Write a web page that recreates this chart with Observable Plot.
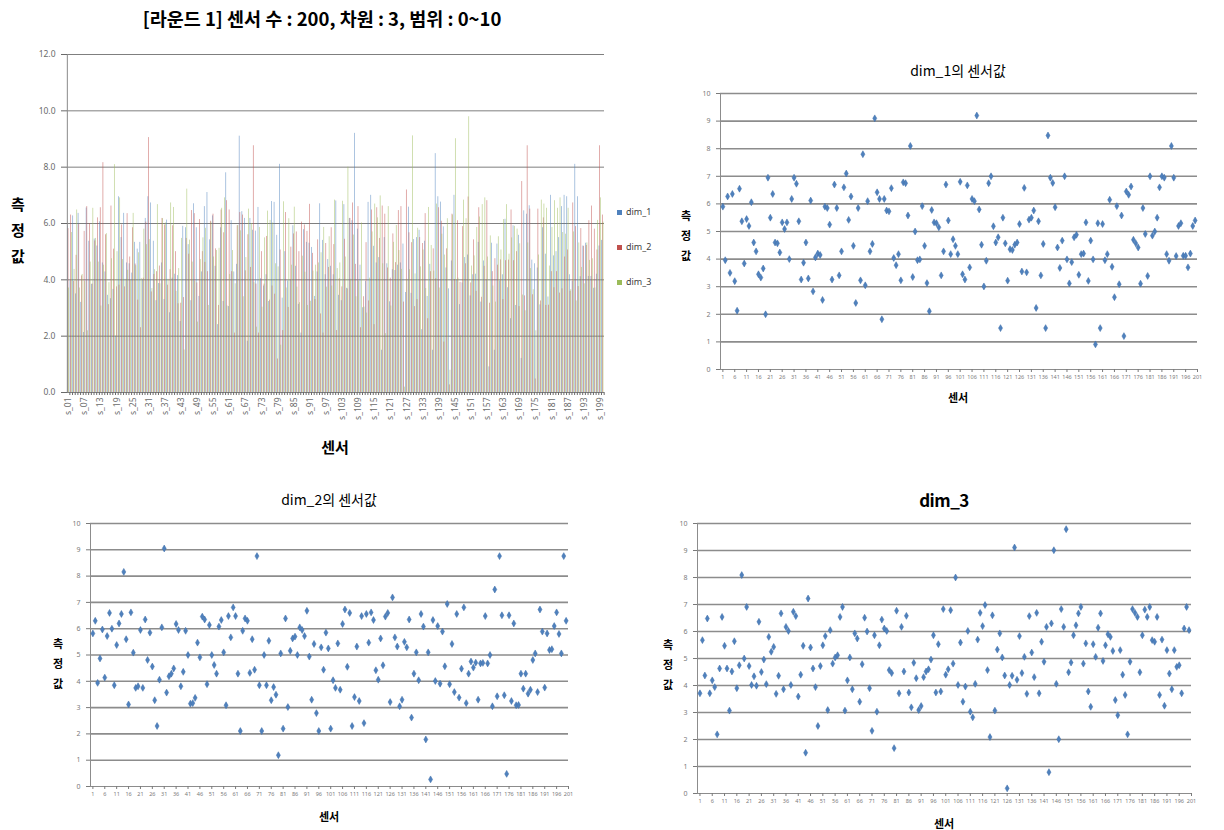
<!DOCTYPE html>
<html><head><meta charset="utf-8">
<script src="https://cdn.jsdelivr.net/npm/d3@7"></script>
<script src="https://cdn.jsdelivr.net/npm/@observablehq/plot@0.6"></script>
<style>
body{margin:0;background:#fff;}
#root{position:relative;width:1224px;height:830px;overflow:hidden;background:#fff;font-family:"Noto Sans CJK KR","Noto Sans",sans-serif;}
#root svg{position:absolute;overflow:visible;}
.t{position:absolute;white-space:nowrap;transform:translate(-50%,-50%);color:#000;line-height:1;}
.yl{position:absolute;transform:translate(-50%,0);font-weight:bold;text-align:center;}
.lg{position:absolute;font-family:"Noto Sans",sans-serif;font-size:9px;color:#404040;white-space:nowrap;}
.lg span{display:inline-block;width:5px;height:5px;margin-right:4px;vertical-align:middle;}
</style></head>
<body><div id="root"></div>
<script>
const sensorNums = d3.range(1, 201);
const dimNames = ["dim_1", "dim_2", "dim_3"];

const dim1 = [
5.9,3.96,6.27,3.5,6.36,3.2,2.13,6.55,5.37,3.84,
5.45,5.2,6.06,4.6,4.28,3.45,3.33,3.66,2.0,6.95,
5.5,6.36,4.6,4.57,4.24,5.33,5.09,5.33,4.0,6.18,
6.95,6.73,5.37,3.26,3.87,4.6,3.3,6.12,2.83,4.06,
4.2,4.15,2.52,5.9,5.85,5.25,3.26,6.7,5.85,3.41,
4.28,6.6,7.1,5.42,6.27,4.48,2.41,5.85,3.23,7.8,
3.05,6.1,4.28,4.55,9.1,6.42,6.18,1.82,6.18,5.76,
5.73,6.57,4.04,3.78,4.18,3.23,6.78,6.75,5.58,8.1,
3.35,5.0,3.96,3.99,5.92,4.48,3.13,2.11,5.78,5.33,
5.3,5.15,3.41,4.28,6.7,5.4,4.18,4.72,4.48,4.18,
6.8,3.45,3.26,6.67,3.7,6.18,6.1,9.2,5.8,4.52,
3.01,3.94,6.75,7.0,5.19,4.6,4.79,1.5,5.5,4.57,
3.22,4.36,4.33,4.52,4.6,5.27,3.55,6.58,3.52,5.43,
5.5,5.76,2.23,5.37,3.41,4.55,1.5,8.48,6.95,6.76,
5.88,4.42,3.68,4.67,7.0,3.99,3.12,3.89,4.79,4.88,
3.43,4.18,4.2,5.33,3.21,4.67,3.99,0.91,5.3,1.5,
5.27,3.96,4.18,6.15,3.72,2.62,5.92,3.09,5.58,1.21,
6.45,6.33,6.63,4.7,4.57,4.42,3.11,5.85,4.91,3.39,
7.0,4.85,5.0,5.5,6.6,7.0,6.95,4.18,3.94,8.1,
6.95,4.11,5.2,5.3,4.12,4.12,3.7,4.2,5.2,5.4];

const dim2 = [
5.82,6.3,3.94,4.87,5.97,4.14,5.72,6.6,6.0,3.85,
5.38,6.2,6.56,8.16,5.6,3.12,6.62,5.09,3.75,3.81,
5.95,3.75,6.35,4.81,5.85,4.56,3.28,2.3,4.06,6.05,
9.05,3.57,4.19,4.29,4.49,6.18,5.95,3.81,4.36,5.92,
5.0,3.15,3.17,3.37,5.47,4.91,6.46,6.35,3.89,6.14,
5.0,4.62,4.29,6.08,6.33,5.1,3.09,6.48,5.67,6.81,
6.48,4.29,2.11,5.92,6.39,6.3,4.32,5.6,4.44,8.76,
3.85,2.11,5.0,3.85,5.54,3.28,3.78,3.49,1.19,5.06,
2.2,6.39,3.02,5.16,5.63,5.7,5.0,6.05,5.95,5.72,
6.68,4.94,3.3,5.42,2.79,2.11,5.29,4.44,5.85,5.25,
2.2,4.04,3.75,5.44,3.68,6.18,6.73,4.55,6.6,2.3,
3.4,5.32,3.25,6.48,2.41,6.56,5.47,6.62,6.33,4.42,
4.06,5.63,4.61,6.46,6.6,3.21,7.19,5.67,5.32,3.05,
3.3,5.5,5.29,6.35,2.62,4.29,5.1,4.04,6.56,6.08,
1.79,5.1,0.27,6.33,4.01,6.1,3.91,5.89,4.57,6.94,
3.89,5.42,3.59,6.56,3.38,4.48,6.81,3.17,4.29,4.75,
4.52,4.71,3.3,4.68,4.7,6.48,4.68,5.0,3.05,7.49,
3.43,8.76,6.51,3.47,0.48,6.51,3.25,6.2,3.09,3.1,
4.29,3.72,4.29,3.53,3.68,4.81,5.06,3.59,6.73,5.89,
3.76,5.82,5.19,5.22,6.1,6.62,5.8,5.06,8.76,6.3];

const dim3 = [
3.71,5.68,4.37,6.48,3.71,4.19,3.94,2.19,4.63,6.54,
5.47,4.63,3.07,4.52,5.64,3.9,4.75,8.09,5.0,6.91,
4.72,4.02,4.34,3.99,6.36,4.5,4.96,4.05,5.8,5.25,
5.43,3.69,4.36,6.67,3.86,6.17,6.02,4.02,6.73,6.57,
3.59,4.4,5.47,1.51,7.22,5.41,4.63,3.94,2.5,4.72,
5.49,5.83,3.09,6.05,4.81,5.04,5.12,6.54,6.91,3.07,
4.19,5.04,3.86,5.93,5.74,3.4,4.79,6.51,6.0,3.9,
2.32,5.86,3.03,5.49,6.44,6.11,6.02,4.57,4.46,1.68,
6.77,3.71,6.17,4.52,6.58,3.74,3.19,4.84,4.27,3.09,
3.24,4.31,4.52,4.6,4.96,5.86,3.74,5.53,3.78,6.83,
4.4,4.6,6.79,4.81,8.0,4.02,5.59,3.4,3.96,6.02,
3.03,2.82,4.06,5.7,6.69,6.2,6.98,4.57,2.09,6.6,
3.07,5.33,5.93,5.04,4.37,0.19,4.02,4.36,9.11,4.21,
5.83,4.46,5.06,3.69,6.57,5.22,4.31,6.69,3.71,5.62,
4.88,6.17,0.79,6.3,9.01,4.06,2.01,6.83,6.17,9.79,
4.49,4.85,5.86,6.23,6.67,6.91,4.81,5.56,3.78,3.21,
5.53,5.06,6.14,6.67,4.91,5.49,5.9,5.8,5.28,3.46,
2.9,5.31,4.4,3.65,2.19,4.88,6.83,6.69,6.54,4.49,
5.86,6.81,6.54,6.91,5.68,5.62,6.54,3.65,5.7,3.25,
5.31,4.44,3.86,5.31,4.69,4.75,3.71,6.11,6.91,6.05];

const barTickSensors = d3.range(1, 201, 6);
const yTicksBar = [0, 2, 4, 6, 8, 10, 12];
const yTicksScatter = d3.range(0, 11);
const xTicksScatter = d3.range(1, 202, 5);

const series = [dim1, dim2, dim3];
const colors = ["#4f81bd", "#c0504d", "#9bbb59"];
const sensorLabel = n => "s_" + (n < 10 ? "0" + n : n);

const root = document.getElementById("root");
function place(svg, left, top) { svg.style.left = left + "px"; svg.style.top = top + "px"; root.appendChild(svg); }
function text(x, y, s, css) { const d = document.createElement("div"); d.className = "t"; d.textContent = s; d.style.cssText += `left:${x}px;top:${y}px;` + (css || ""); root.appendChild(d); }
function ylab(x, y, size, gap) { const d = document.createElement("div"); d.className = "yl"; d.innerHTML = "측<br>정<br>값"; d.style.cssText += `left:${x}px;top:${y}px;font-size:${size}px;line-height:${gap}px;`; root.appendChild(d); }

// ---- grouped bar chart ----
const barKeys = sensorNums.flatMap(n => [...dimNames.map(d => n + "|" + d), n + "|gap"]);
const rows = sensorNums.flatMap((n, i) => dimNames.map((d, j) => ({ key: n + "|" + d, dim: d, value: series[j][i] })));
const bar = Plot.plot({
  width: 612, height: 400, marginLeft: 67, marginRight: 8, marginTop: 14, marginBottom: 48,
  style: { fontFamily: "'Noto Sans', sans-serif", fontSize: "8.5px", color: "#6a6a6a", background: "transparent" },
  x: { type: "band", domain: barKeys, padding: 0, axis: null },
  y: { domain: [0, 12], axis: null },
  color: { domain: dimNames, range: colors },
  marks: [
    Plot.ruleY(yTicksBar, { stroke: "#7f7f7f", strokeWidth: 1 }),
    Plot.barY(rows, { x: "key", y: "value", fill: "dim", fillOpacity: 0.7 }),
    Plot.ruleX([barKeys[0]], { stroke: "#8a8a8a", dx: -0.5 }),
    Plot.axisY({ ticks: yTicksBar, tickFormat: d3.format(".1f"), tickSize: 6, tickPadding: 6, label: null }),
    Plot.axisX({ ticks: sensorNums.map(n => n + "|gap"), tickFormat: () => "", tickSize: 3, label: null }),
    Plot.axisX({ ticks: barTickSensors.map(n => n + "|dim_2"), tickFormat: k => sensorLabel(+k.split("|")[0]), tickRotate: -90, tickSize: 0, tickPadding: 5, label: null })
  ]
});
place(bar, 0, 40);
text(322, 18, "[라운드 1] 센서 수 : 200, 차원 : 3, 범위 : 0~10", "font-size:18.5px;font-weight:bold;");
text(335, 446, "센서", "font-size:15px;font-weight:bold;");
ylab(18, 191, 15, 26);
const legend = document.createElement("div");
legend.innerHTML = dimNames.map((d, j) => `<div class="lg" style="left:617px;top:${205 + j * 35}px"><span style="background:${colors[j]}"></span>${d}</div>`).join("");
root.appendChild(legend);

// ---- scatter plots ----
function scatter(values, w, h) {
  const data = values.map((v, i) => ({ s: sensorNums[i], v }));
  return Plot.plot({
    width: w, height: h, marginLeft: 30, marginRight: 10, marginTop: 8, marginBottom: 16,
    style: { fontFamily: "'Noto Sans', sans-serif", fontSize: "7px", color: "#7a7a7a", background: "transparent" },
    x: { domain: [0, 201], axis: null },
    y: { domain: [0, 10], axis: null },
    marks: [
      Plot.ruleY(yTicksScatter.slice(1), { stroke: "#8c8c8c", strokeWidth: 1.6 }),
      Plot.ruleY([0], { stroke: "#8c8c8c", strokeWidth: 1 }),
      Plot.ruleX([0], { stroke: "#8c8c8c", strokeWidth: 1 }),
      Plot.axisY({ ticks: yTicksScatter, tickSize: 4, tickPadding: 6, label: null }),
      Plot.axisX({ ticks: xTicksScatter, tickSize: 3, tickPadding: 3, fontSize: 5.5, label: null }),
      Plot.dot(data, { x: "s", y: "v", symbol: "diamond", r: 2.1, fill: "#4f81bd", stroke: "#3d6ca8", strokeWidth: 0.5 })
    ]
  });
}

// dim_1 (top right)
place(scatter(dim1, 517, 300), 690, 85);
text(958, 70, "dim_1의 센서값", "font-size:14px;");
text(958, 397, "센서", "font-size:11px;font-weight:bold;");
ylab(686, 205, 11, 20);

// dim_2 (bottom left)
place(scatter(dim2, 518, 287), 60, 515);
text(329, 499, "dim_2의 센서값", "font-size:14px;");
text(329, 816, "센서", "font-size:11px;font-weight:bold;");
ylab(58, 633, 11, 20);

// dim_3 (bottom right)
place(scatter(dim3, 534, 294), 667, 515);
text(944, 499, "dim_3", "font-size:17px;font-weight:bold;letter-spacing:-0.5px;");
text(944, 823, "센서", "font-size:11px;font-weight:bold;");
ylab(668, 634, 11, 20);
</script>
</body></html>
